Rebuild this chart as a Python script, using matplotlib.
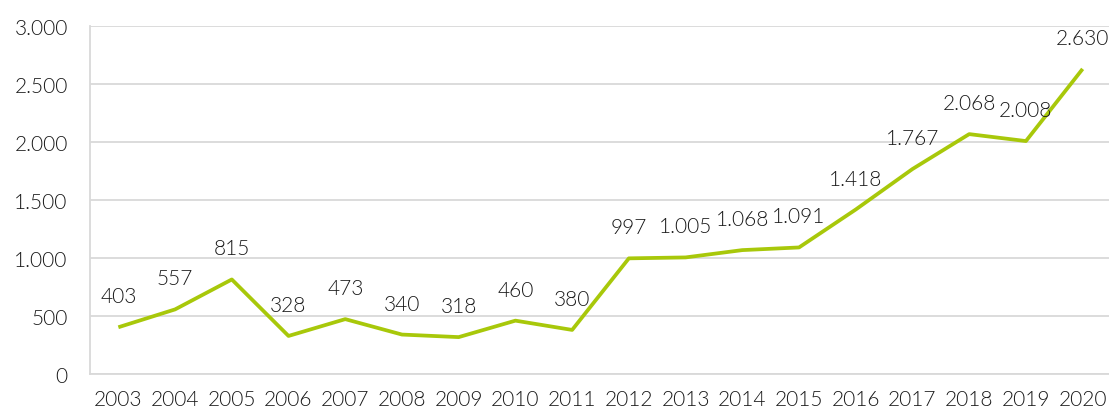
import matplotlib
matplotlib.use("Agg")
import matplotlib.pyplot as plt
from matplotlib.ticker import FuncFormatter

years = ["2003", "2004", "2005", "2006", "2007", "2008", "2009", "2010", "2011",
         "2012", "2013", "2014", "2015", "2016", "2017", "2018", "2019", "2020"]
values = [403, 557, 815, 328, 473, 340, 318, 460, 380,
          997, 1005, 1068, 1091, 1418, 1767, 2068, 2008, 2630]
yticks = [0, 500, 1000, 1500, 2000, 2500, 3000]

def fmt(v):
    return f"{int(v):,}".replace(",", ".")

plt.rcParams['font.family'] = ['Lato', 'DejaVu Sans']
W = 300

fig = plt.figure(figsize=(11.09, 4.10), dpi=100)
ax = fig.add_axes([90/1109, 1-375/410, 1021/1109, 348/410])

x = list(range(len(years)))
ax.plot(x, values, color='#A8C80A', lw=2.7, solid_capstyle='butt', zorder=3)
for xi, v in zip(x, values):
    ax.annotate(fmt(v), (xi, v), xytext=(0, 31), textcoords='offset pixels',
                ha='center', va='center', fontsize=15, color='#1A1A1A', fontweight=W)

ax.set_xlim(-0.5, len(years) - 0.5)
ax.set_ylim(0, 3000)
ax.set_yticks(yticks)
ax.yaxis.set_major_formatter(FuncFormatter(lambda v, p: fmt(v)))
ax.set_xticks(x)
ax.set_xticklabels(years)
ax.grid(axis='y', color='#D9D9D9', lw=1.3)
ax.set_axisbelow(True)
for s in ['top', 'right']:
    ax.spines[s].set_visible(False)
for s in ['left', 'bottom']:
    ax.spines[s].set_color('#D9D9D9')
    ax.spines[s].set_linewidth(1.3)
ax.tick_params(axis='both', length=0, labelsize=15, colors='#1A1A1A')
ax.tick_params(axis='x', pad=11)
ax.tick_params(axis='y', pad=16)
for lab in ax.get_xticklabels() + ax.get_yticklabels():
    lab.set_fontweight(W)

fig.savefig("out.png", dpi=100)
